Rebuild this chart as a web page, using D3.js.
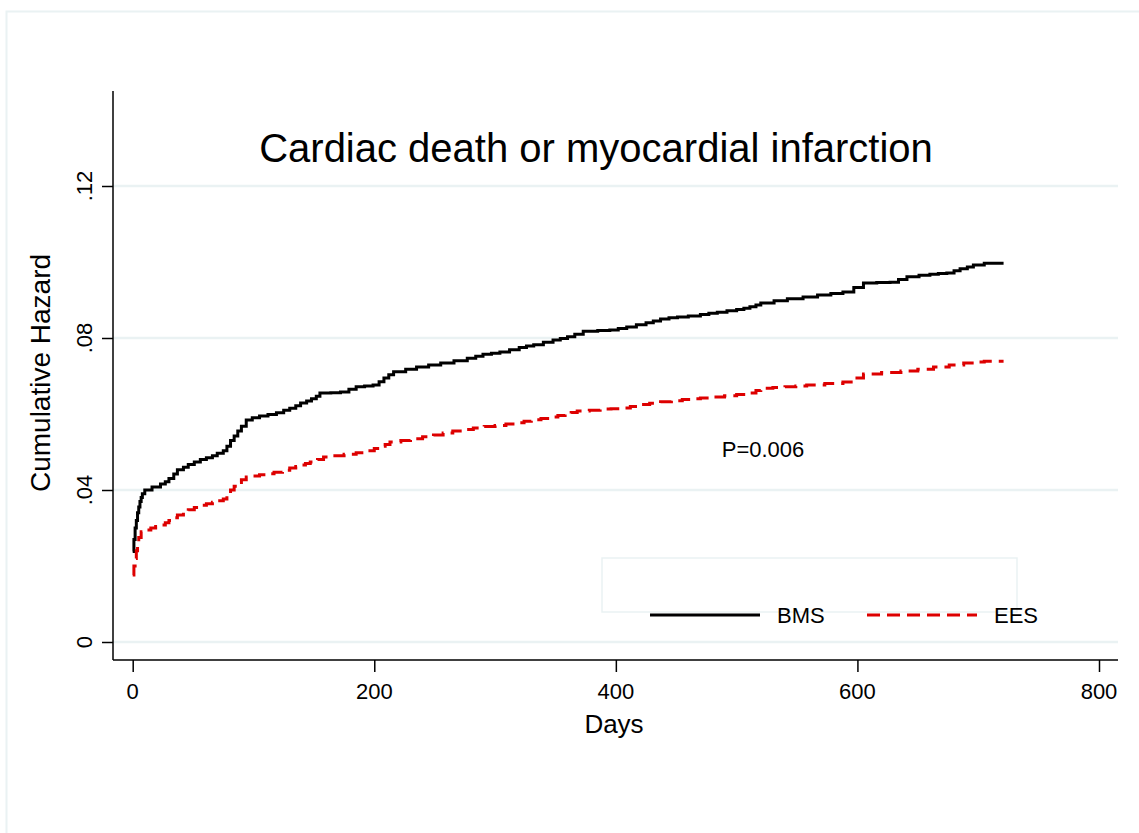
<!DOCTYPE html>
<html>
<head>
<meta charset="utf-8">
<script src="https://cdn.jsdelivr.net/npm/d3@7"></script>
<style>
  body { margin: 0; background: #fff; }
  text { font-family: "Liberation Sans", Arial, sans-serif; fill: #000; }
</style>
</head>
<body>
<div id="chart"></div>
<script>
// BMS cumulative hazard (days, value)
const bmsDays = [0, 1, 2, 3, 4, 5, 6, 7, 8, 10, 16, 23, 27, 30, 34, 37, 42, 46, 51, 56, 61, 66, 70, 75, 78, 81, 84, 87, 90, 94, 99, 105, 112, 119, 125, 130, 135, 139, 144, 148, 152, 155, 164, 172, 179, 185, 192, 199, 204, 208, 212, 216, 226, 235, 245, 255, 266, 277, 284, 290, 297, 304, 312, 320, 326, 332, 340, 348, 354, 360, 366, 373, 385, 395, 402, 409, 417, 425, 431, 437, 444, 451, 460, 470, 477, 484, 492, 500, 506, 511, 516, 520, 531, 542, 555, 567, 578, 588, 597, 605, 616, 627, 634, 641, 651, 660, 667, 674, 680, 685, 691, 696, 705, 721];
const bmsHaz = [0.0238, 0.027, 0.030, 0.032, 0.034, 0.0355, 0.037, 0.038, 0.039, 0.040, 0.0408, 0.0416, 0.0422, 0.043, 0.0442, 0.0453, 0.046, 0.0467, 0.0474, 0.048, 0.0485, 0.049, 0.0497, 0.0503, 0.0515, 0.053, 0.0542, 0.0555, 0.0568, 0.0584, 0.059, 0.0595, 0.0599, 0.0603, 0.061, 0.0615, 0.0622, 0.0629, 0.0634, 0.064, 0.0647, 0.0655, 0.0656, 0.0658, 0.0665, 0.0672, 0.0674, 0.0676, 0.0685, 0.0695, 0.0703, 0.0711, 0.0718, 0.0724, 0.0729, 0.0734, 0.074, 0.0747, 0.0752, 0.0757, 0.076, 0.0763, 0.0769, 0.0775, 0.0779, 0.0782, 0.0789, 0.0795, 0.0799, 0.0803, 0.081, 0.0818, 0.082, 0.0821, 0.0825, 0.0829, 0.0835, 0.0840, 0.0845, 0.0850, 0.0853, 0.0855, 0.0858, 0.0862, 0.0865, 0.0868, 0.0872, 0.0875, 0.0878, 0.0882, 0.0887, 0.0892, 0.0898, 0.0903, 0.0908, 0.0913, 0.0917, 0.0921, 0.0933, 0.0945, 0.0946, 0.0947, 0.0954, 0.0961, 0.0965, 0.0968, 0.097, 0.0971, 0.0977, 0.0982, 0.0987, 0.0992, 0.0997, 0.0997];

// EES cumulative hazard (days, value)
const eesDays = [0, 1, 2, 3, 4, 5, 7, 11, 15, 19, 23, 27, 30, 34, 37, 42, 46, 51, 56, 61, 66, 70, 75, 78, 81, 84, 87, 90, 94, 100, 105, 111, 117, 124, 130, 135, 139, 143, 147, 153, 158, 166, 175, 185, 194, 200, 205, 209, 213, 222, 230, 240, 249, 257, 265, 274, 282, 291, 300, 309, 318, 324, 330, 338, 346, 352, 358, 363, 368, 378, 387, 396, 404, 412, 420, 428, 437, 446, 455, 462, 470, 480, 490, 500, 511, 516, 520, 530, 540, 549, 558, 573, 588, 597, 605, 620, 636, 650, 663, 676, 688, 697, 705, 721];
const eesHaz = [0.0176, 0.020, 0.022, 0.024, 0.026, 0.0275, 0.029, 0.0295, 0.030, 0.0304, 0.0308, 0.0314, 0.032, 0.0327, 0.0334, 0.0341, 0.0348, 0.0354, 0.036, 0.0364, 0.0368, 0.0372, 0.0376, 0.0386, 0.040, 0.041, 0.042, 0.0427, 0.0434, 0.0437, 0.0440, 0.0443, 0.0447, 0.0452, 0.0458, 0.0462, 0.0466, 0.047, 0.0474, 0.048, 0.0487, 0.049, 0.0494, 0.0498, 0.0503, 0.0509, 0.0515, 0.052, 0.0526, 0.053, 0.0535, 0.054, 0.0545, 0.055, 0.0555, 0.0559, 0.0563, 0.0567, 0.0570, 0.0574, 0.0577, 0.0581, 0.0585, 0.0588, 0.0592, 0.0596, 0.0600, 0.0604, 0.0608, 0.061, 0.0613, 0.0614, 0.0616, 0.062, 0.0625, 0.0628, 0.0632, 0.0635, 0.0638, 0.064, 0.0642, 0.0645, 0.0648, 0.0651, 0.0655, 0.0662, 0.0668, 0.067, 0.0672, 0.0674, 0.0676, 0.068, 0.0684, 0.0695, 0.0705, 0.0709, 0.0713, 0.0718, 0.0724, 0.0729, 0.0734, 0.0737, 0.0739, 0.0739];

const xTicks = [0, 200, 400, 600, 800];
const yTicks = [0, 0.04, 0.08, 0.12];
const yTickLabels = ["0", ".04", ".08", ".12"];
const seriesNames = ["BMS", "EES"];

const W = 1139, H = 833;
const grid = "#eaf2f3";

const svg = d3.select("#chart").append("svg")
    .attr("width", W)
    .attr("height", H);

// outer frame (only top & left visible)
svg.append("rect")
    .attr("x", 6.5).attr("y", 11.5)
    .attr("width", W + 20).attr("height", H + 20)
    .attr("fill", "#fff")
    .attr("stroke", grid)
    .attr("stroke-width", 2);

const x = d3.scaleLinear().domain([0, 800]).range([132.7, 1099]);
const y = d3.scaleLinear().domain([0, 0.12]).range([642, 186]);
const plotLeft = 113, plotRight = 1118, plotTop = 91, plotBottom = 660;

// gridlines
svg.append("g").selectAll("line")
    .data(yTicks)
    .enter().append("line")
    .attr("x1", plotLeft).attr("x2", plotRight)
    .attr("y1", (d) => y(d)).attr("y2", (d) => y(d))
    .attr("stroke", grid)
    .attr("stroke-width", 2.5);

// y axis
const yAxis = svg.append("g")
    .attr("transform", "translate(" + plotLeft + ",0)")
    .call(d3.axisLeft(y).tickValues(yTicks).tickSize(11).tickFormat(""));
yAxis.select(".domain").attr("d", "M0," + plotTop + "V" + plotBottom);
yAxis.selectAll("line, path").attr("stroke", "#000").attr("stroke-width", 1.5);

svg.append("g").selectAll("text")
    .data(yTicks)
    .enter().append("text")
    .attr("transform", (d) => "translate(92," + y(d) + ") rotate(-90)")
    .attr("text-anchor", "middle")
    .style("font-size", "22px")
    .text((d, i) => yTickLabels[i]);

// x axis
const xAxis = svg.append("g")
    .attr("transform", "translate(0," + plotBottom + ")")
    .call(d3.axisBottom(x).tickValues(xTicks).tickSize(12).tickFormat(""));
xAxis.select(".domain").attr("d", "M" + plotLeft + ",0H" + plotRight);
xAxis.selectAll("line, path").attr("stroke", "#000").attr("stroke-width", 1.5);

svg.append("g").selectAll("text")
    .data(xTicks)
    .enter().append("text")
    .attr("x", (d) => x(d))
    .attr("y", 699)
    .attr("text-anchor", "middle")
    .style("font-size", "22px")
    .text((d) => d);

// axis titles
svg.append("text")
    .attr("x", 614).attr("y", 733)
    .attr("text-anchor", "middle")
    .style("font-size", "26px")
    .text("Days");

svg.append("text")
    .attr("transform", "translate(50,373) rotate(-90)")
    .attr("text-anchor", "middle")
    .style("font-size", "28px")
    .text("Cumulative Hazard");

// title
svg.append("text")
    .attr("x", 596).attr("y", 162)
    .attr("text-anchor", "middle")
    .style("font-size", "40px")
    .text("Cardiac death or myocardial infarction");

// curves
const line = d3.line()
    .x((d) => x(d[0]))
    .y((d) => y(d[1]))
    .curve(d3.curveStepAfter);

const bms = bmsDays.map((d, i) => [d, bmsHaz[i]]);
const ees = eesDays.map((d, i) => [d, eesHaz[i]]);

svg.append("path")
    .datum(bms)
    .attr("d", line)
    .attr("fill", "none")
    .attr("stroke", "#000")
    .attr("stroke-width", 3);

svg.append("path")
    .datum(ees)
    .attr("d", line)
    .attr("fill", "none")
    .attr("stroke", "#dd0000")
    .attr("stroke-width", 3)
    .attr("stroke-dasharray", "13,7");

// p-value
svg.append("text")
    .attr("x", 763).attr("y", 457)
    .attr("text-anchor", "middle")
    .style("font-size", "22px")
    .text("P=0.006");

// legend
svg.append("rect")
    .attr("x", 602).attr("y", 558)
    .attr("width", 415).attr("height", 54)
    .attr("fill", "none")
    .attr("stroke", grid)
    .attr("stroke-width", 1.5);

const legendItems = [
    { name: seriesNames[0], x1: 650, color: "#000", dash: null },
    { name: seriesNames[1], x1: 867, color: "#dd0000", dash: "13,7" }
];
const lg = svg.append("g").selectAll("g")
    .data(legendItems)
    .enter().append("g");
lg.append("line")
    .attr("x1", (d) => d.x1).attr("x2", (d) => d.x1 + 110)
    .attr("y1", 615).attr("y2", 615)
    .attr("stroke", (d) => d.color)
    .attr("stroke-width", 3)
    .attr("stroke-dasharray", (d) => d.dash);
lg.append("text")
    .attr("x", (d) => d.x1 + 127)
    .attr("y", 623)
    .style("font-size", "22px")
    .text((d) => d.name);
</script>
</body>
</html>
